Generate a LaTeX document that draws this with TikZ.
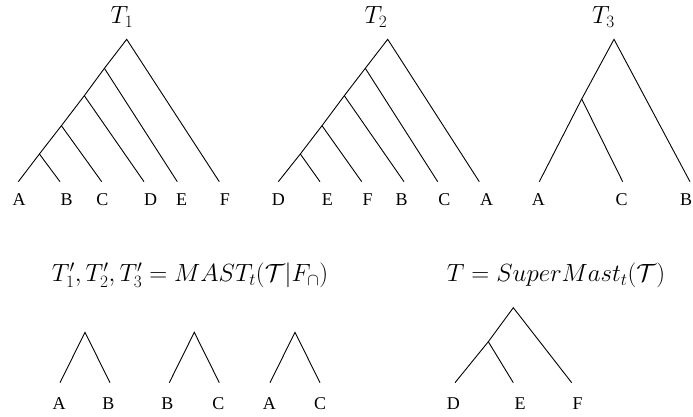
\documentclass[tikz,border=0pt]{standalone}
\usepackage{fontspec}
\newfontfamily\leaffont{Liberation Serif}
\begin{document}
\begin{tikzpicture}[x=1pt,y=-1pt,
  edge/.style={line width=0.9pt},
  leaf/.style={font=\leaffont\fontsize{18}{20}\selectfont, inner sep=0},
  ttl/.style={font=\fontsize{25}{29}\selectfont, inner sep=0, anchor=base}]
\useasboundingbox (0,0) rectangle (693,417);
% ---------- T1 ----------
\node[ttl] (t1) at (122,23.3) {$T_1$};
\coordinate (r1) at (126.7,39.3);
\coordinate (a1) at (104.4,68.3);
\coordinate (b1) at (84.3,95.7);
\coordinate (c1) at (61.4,125.7);
\coordinate (d1) at (39.4,154);
\coordinate (lA1) at (18.3,181.7);
\coordinate (lB1) at (60,181.7);
\coordinate (lC1) at (101.7,181.7);
\coordinate (lD1) at (144,181.7);
\coordinate (lE1) at (177.3,181.7);
\coordinate (lF1) at (219.3,181.7);
\draw[edge] (lA1) -- (d1) -- (c1) -- (b1) -- (a1) -- (r1) -- (lF1);
\draw[edge] (d1) -- (lB1);
\draw[edge] (c1) -- (lC1);
\draw[edge] (b1) -- (lD1);
\draw[edge] (a1) -- (lE1);
\node[leaf] (nA1) at (19,200) {A};
\node[leaf] (nB1) at (66.7,200) {B};
\node[leaf] (nC1) at (102.3,200) {C};
\node[leaf] (nD1) at (150.7,200) {D};
\node[leaf] (nE1) at (181.7,200) {E};
\node[leaf] (nF1) at (225,200) {F};
% ---------- T2 ----------
\node[ttl] (t2) at (376,23.3) {$T_2$};
\coordinate (r2) at (387.7,39.3);
\coordinate (a2) at (365.3,68.3);
\coordinate (b2) at (344.3,95.7);
\coordinate (c2) at (322,125.7);
\coordinate (d2) at (300.3,154);
\coordinate (lD2) at (278.3,181.7);
\coordinate (lE2) at (320,181.7);
\coordinate (lF2) at (361.7,181.7);
\coordinate (lB2) at (404,181.7);
\coordinate (lC2) at (437.7,181.7);
\coordinate (lA2) at (479.3,181.7);
\draw[edge] (lD2) -- (d2) -- (c2) -- (b2) -- (a2) -- (r2) -- (lA2);
\draw[edge] (d2) -- (lE2);
\draw[edge] (c2) -- (lF2);
\draw[edge] (b2) -- (lB2);
\draw[edge] (a2) -- (lC2);
\node[leaf] (nD2) at (278.3,200) {D};
\node[leaf] (nE2) at (327.3,200) {E};
\node[leaf] (nF2) at (367.7,200) {F};
\node[leaf] (nB2) at (401.7,200) {B};
\node[leaf] (nC2) at (444.3,200) {C};
\node[leaf] (nA2) at (486.7,200) {A};
% ---------- T3 ----------
\node[ttl] (t3) at (603.5,23.3) {$T_3$};
\coordinate (r3) at (614,39.3);
\coordinate (a3) at (581.7,99);
\coordinate (lA3) at (539.3,181.7);
\coordinate (lC3) at (622.7,181.7);
\coordinate (lB3) at (690,181.7);
\draw[edge] (lA3) -- (a3) -- (r3) -- (lB3);
\draw[edge] (a3) -- (lC3);
\node[leaf] (nA3) at (538.3,200) {A};
\node[leaf] (nC3) at (621.7,200) {C};
\node[leaf] (nB3) at (686,200) {B};
% ---------- formulas ----------
\node[ttl, anchor=base west] (f1) at (51.7,281.7) {$T'_1, T'_2, T'_3 = MAST_t(\mathcal{T}|F_\cap)$};
\node[ttl, anchor=base west] (f2) at (446.7,281.7) {$T = SuperMast_t(\mathcal{T})$};
% ---------- small trees ----------
\coordinate (p1) at (85,332.3);
\coordinate (p1l) at (60,382.7);
\coordinate (p1r) at (110,382.7);
\draw[edge] (p1l) -- (p1) -- (p1r);
\node[leaf] (m1a) at (59,403.3) {A};
\node[leaf] (m1b) at (108.3,403.3) {B};
\coordinate (p2) at (194.3,332.3);
\coordinate (p2l) at (169.3,382.7);
\coordinate (p2r) at (219.3,382.7);
\draw[edge] (p2l) -- (p2) -- (p2r);
\node[leaf] (m2b) at (167.3,403.3) {B};
\node[leaf] (m2c) at (218.3,403.3) {C};
\coordinate (p3) at (295,332.3);
\coordinate (p3l) at (270,382.7);
\coordinate (p3r) at (320,382.7);
\draw[edge] (p3l) -- (p3) -- (p3r);
\node[leaf] (m3a) at (269.3,403.3) {A};
\node[leaf] (m3c) at (320,403.3) {C};
% ---------- result tree ----------
\coordinate (s) at (513.3,307.7);
\coordinate (si) at (488.3,341.7);
\coordinate (sD) at (455,382.7);
\coordinate (sE) at (513.3,382.7);
\coordinate (sF) at (571.7,382.7);
\draw[edge] (sD) -- (si) -- (s) -- (sF);
\draw[edge] (si) -- (sE);
\node[leaf] (rD) at (453.3,403.3) {D};
\node[leaf] (rE) at (520,403.3) {E};
\node[leaf] (rF) at (577.7,403.3) {F};
\end{tikzpicture}
\end{document}
